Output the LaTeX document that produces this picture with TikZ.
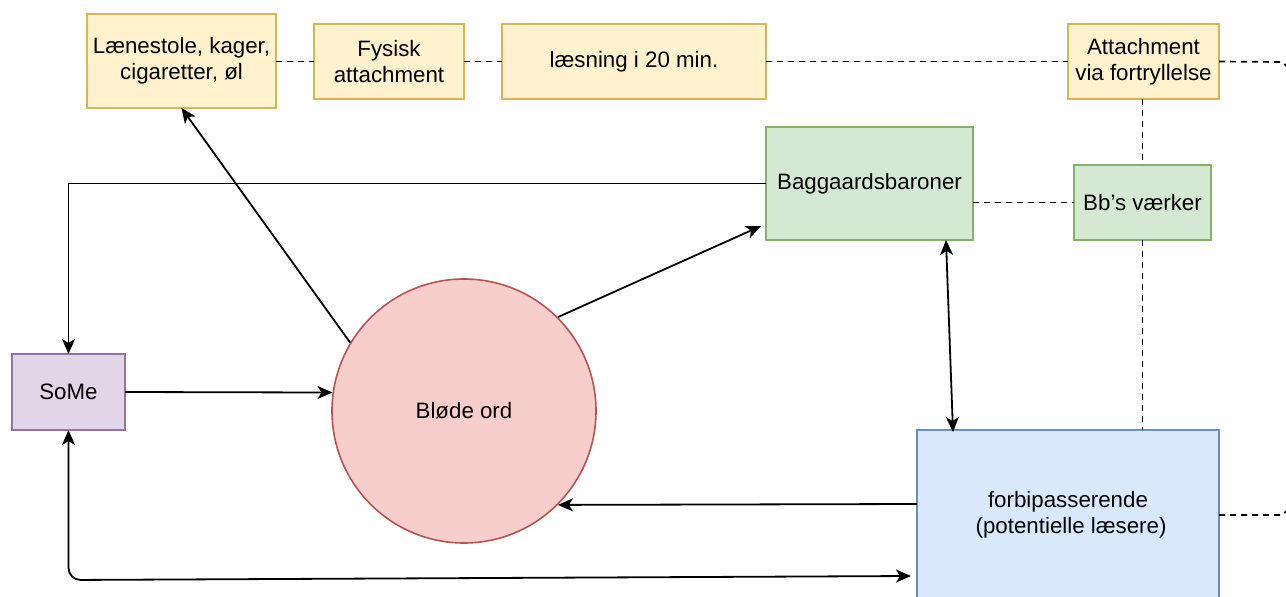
\documentclass[tikz,border=0pt]{standalone}
\usepackage{fontspec}
\setmainfont{Liberation Sans}
\usetikzlibrary{arrows.meta,calc}
\definecolor{yfill}{HTML}{FFF2CC}\definecolor{ydraw}{HTML}{D6B656}
\definecolor{gfill}{HTML}{D5E8D4}\definecolor{gdraw}{HTML}{82B366}
\definecolor{pfill}{HTML}{E1D5E7}\definecolor{pdraw}{HTML}{9673A6}
\definecolor{rfill}{HTML}{F8CECC}\definecolor{rdraw}{HTML}{B85450}
\definecolor{bfill}{HTML}{DAE8FC}\definecolor{bdraw}{HTML}{6C8EBF}
\tikzset{
  base/.style={anchor=north west,inner sep=0pt,outer sep=0pt,line width=1.6pt,align=center,
    font=\fontsize{22.3}{26}\selectfont},
  ybox/.style={base,fill=yfill,draw=ydraw},
  gbox/.style={base,fill=gfill,draw=gdraw},
  pbox/.style={base,fill=pfill,draw=pdraw},
  bbox/.style={base,fill=bfill,draw=bdraw},
  tip/.style={},
  conn/.style={line width=1.8pt,-{Stealth[length=15pt,width=13pt,inset=4pt]}},
  dconn/.style={line width=1.8pt,{Stealth[length=15pt,width=13pt,inset=4pt]}-{Stealth[length=15pt,width=13pt,inset=4pt]}},
  dline/.style={line width=1.7pt,dash pattern=on 6pt off 5pt},
}
\begin{document}
\begin{tikzpicture}[x=1pt,y=-1pt]
\useasboundingbox (0,0) rectangle (1286,597);
% yellow boxes
\node[ybox,minimum width=189pt,minimum height=94pt] (laen) at (87,14) {Lænestole, kager,\\cigaretter, øl};
\node[ybox,minimum width=150pt,minimum height=75pt] (fys) at (314,24) {Fysisk\\attachment};
\node[ybox,minimum width=264pt,minimum height=75pt] (laes) at (502,24) {læsning i 20 min.};
\node[ybox,minimum width=151pt,minimum height=75pt] (att) at (1068,24) {Attachment\\via fortryllelse};
% green
\node[gbox,minimum width=207pt,minimum height=113pt] (bag) at (766,127) {Baggaardsbaroner};
\node[gbox,minimum width=137pt,minimum height=75pt] (bbv) at (1074,165) {Bb{\char39}s værker};
% purple
\node[pbox,minimum width=113pt,minimum height=76pt] (some) at (12,354) {SoMe};
% blue
\node[bbox,minimum width=302pt,minimum height=170pt] (blue) at (917,430) {forbipasserende\\ \ (potentielle læsere)};
% circle
\node[circle,draw=rdraw,fill=rfill,line width=1.6pt,minimum size=264pt,inner sep=0pt,
  font=\fontsize{22.3}{26}\selectfont] (circ) at (464,411) {Bløde ord};
% dashed lines
\coordinate (e1) at (1280,62);
\coordinate (e1b) at (1286,66);
\coordinate (e2) at (1280,515);
\coordinate (e2b) at (1286,511);
\draw[dline] (laen.east |- fys.west) -- (fys.west);
\draw[dline] (fys.east) -- (laes.west);
\draw[dline] (laes.east) -- (att.west);
\draw[dline] (att.east) -- (e1) to[bend left=40] (e1b);
\draw[dline] (blue.east) -- (e2) to[bend right=40] (e2b);
\draw[dline] (bag.east |- bbv.west) -- (bbv.west);
\draw[dline] (att.south -| bbv.north) -- (bbv.north);
\draw[dline] (bbv.south) -- (bbv.south |- blue.north);
% arrows
\draw[conn] (bag.west) -| (some.north);
\draw[conn] (circ.149) -- (laen.south);
\draw[conn] (circ.45) -- ($(bag.south west)+(-5,-14)$);
\draw[conn] (some.east) -- (circ.172);
\draw[dconn] ($(bag.south east)+(-27,0)$) -- ($(blue.north west)+(36,2)$);
\draw[conn] ($(blue.north west)+(0,74)$) -- (circ.-45);
\coordinate (corner) at (68.5,580);
\draw[dconn,rounded corners=12pt] (some.south) -- (corner) -- ($(blue.north west)+(-6,146)$);
\end{tikzpicture}
\end{document}
